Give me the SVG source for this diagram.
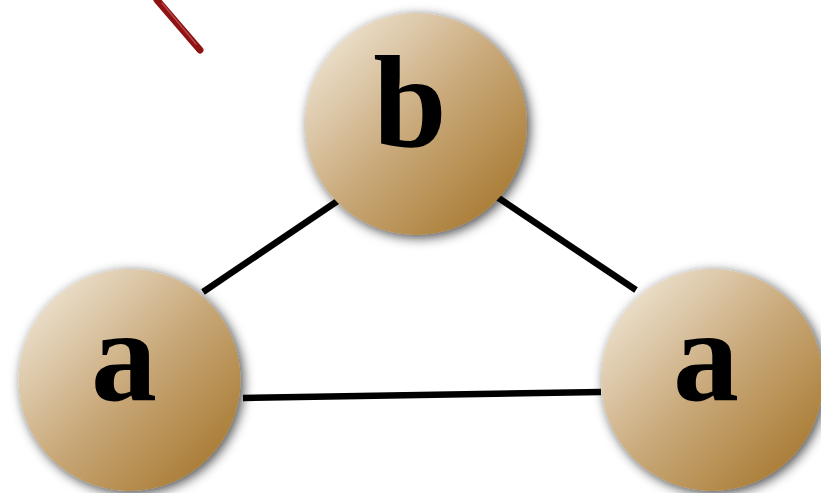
<svg xmlns="http://www.w3.org/2000/svg" width="821" height="493" viewBox="0 0 821 493">
<defs>
<linearGradient id="g" x1="0.1" y1="0.1" x2="0.9" y2="0.9">
<stop offset="0" stop-color="#ede2d0"/>
<stop offset="0.5" stop-color="#c9a97a"/>
<stop offset="1" stop-color="#a87a32"/>
</linearGradient>
<filter id="sh" x="-20%" y="-20%" width="140%" height="140%">
<feDropShadow dx="3" dy="3" stdDeviation="6" flood-color="#000" flood-opacity="0.7"/>
</filter>
<style>
.node circle{fill:url(#g);filter:url(#sh)}
.node text{font-family:"Liberation Serif","Times New Roman",serif;font-weight:bold;font-size:132px;fill:#000;text-anchor:middle}
.edge{stroke:#000;stroke-width:6.5;stroke-linecap:butt}
</style>
</defs>
<g id="scribble" stroke-linecap="round">
<line x1="157" y1="0" x2="200" y2="50" stroke="#8e1414" stroke-width="7"/>
<line x1="162" y1="3" x2="196" y2="44" stroke="#c25050" stroke-width="1.5" opacity="0.8"/>
</g>
<g id="connectors">
<line class="edge" x1="342" y1="198" x2="203" y2="292"/>
<line class="edge" x1="497" y1="197" x2="636" y2="290"/>
<line class="edge" x1="243" y1="398" x2="601" y2="392"/>
</g>
<g id="node-b" class="node">
<circle cx="416" cy="124" r="111"/>
<text x="410" y="146">b</text>
</g>
<g id="node-a1" class="node">
<circle cx="129.5" cy="380" r="111"/>
<text x="124" y="400">a</text>
</g>
<g id="node-a2" class="node">
<circle cx="712" cy="380" r="111"/>
<text x="706" y="400">a</text>
</g>
</svg>
